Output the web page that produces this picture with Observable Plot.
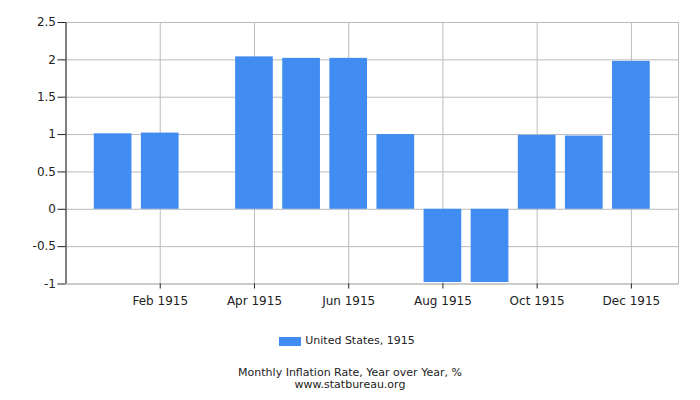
<!DOCTYPE html>
<html>
<head>
<meta charset="utf-8">
<script src="https://cdn.jsdelivr.net/npm/d3@7"></script>
<script src="https://cdn.jsdelivr.net/npm/@observablehq/plot@0.6"></script>
<style>
  body { margin: 0; background: #fff; font-family: "DejaVu Sans", sans-serif; }
  #chart { width: 700px; }
  .legend { height: 14px; padding-top: 14px; display: flex; justify-content: center; align-items: center; font-size: 11px; color: #222; line-height: 14px; }
  .legend .sw { width: 22px; height: 9px; background: #418cf0; margin-right: 4px; margin-left: -6px; }
  .caption { margin-top: 19px; text-align: center; font-size: 11px; line-height: 11.5px; color: #222; }
</style>
</head>
<body>
<div id="chart"></div>
<script>
const months = ["Jan 1915","Feb 1915","Mar 1915","Apr 1915","May 1915","Jun 1915","Jul 1915","Aug 1915","Sep 1915","Oct 1915","Nov 1915","Dec 1915"];
const values = [1.01, 1.02, 0, 2.04, 2.02, 2.02, 1.00, -0.98, -0.98, 0.99, 0.98, 1.98];
const tickMonths = ["Feb 1915","Apr 1915","Jun 1915","Aug 1915","Oct 1915","Dec 1915"];
const yTicks = [-1, -0.5, 0, 0.5, 1, 1.5, 2, 2.5];
const seriesName = "United States, 1915";
const title = "Monthly Inflation Rate, Year over Year, %";
const source = "www.statbureau.org";

const data = months.map((m, i) => ({month: m, pos: i + 1, value: values[i]}));
const xTicks = tickMonths.map(m => months.indexOf(m) + 1);
const barHalf = 0.4;

const chart = Plot.plot({
  width: 700,
  height: 320,
  marginLeft: 65.5,
  marginRight: 22,
  marginTop: 22,
  marginBottom: 36.5,
  style: { fontFamily: "DejaVu Sans, sans-serif", fontSize: "12px", color: "#222", background: "#fff" },
  x: { type: "linear", domain: [0, months.length + 1] },
  y: { domain: [-1, 2.5] },
  marks: [
    Plot.gridX(xTicks, { stroke: "#bbb", strokeOpacity: 1 }),
    Plot.gridY(yTicks, { stroke: "#bbb", strokeOpacity: 1 }),
    Plot.frame({ stroke: "#bbb" }),
    Plot.rectY(data, { x1: d => d.pos - barHalf, x2: d => d.pos + barHalf, y1: 0, y2: "value", fill: "#418cf0" }),
    Plot.axisY({ ticks: yTicks, tickFormat: d => String(d), tickSize: 8, tickPadding: 2, stroke: "#222", fill: "#222", fontSize: 12, label: null }),
    Plot.axisX({ ticks: xTicks, tickFormat: d => months[d - 1], tickSize: 5, tickPadding: 7, stroke: "#222", fill: "#222", fontSize: 12, label: null }),
    Plot.tickX([0], { x: d => d, y1: -1, y2: -1, stroke: "#222" }),
  ]
});
document.getElementById("chart").appendChild(chart);

const leg = document.createElement("div");
leg.className = "legend";
leg.innerHTML = `<span class="sw"></span><span></span>`;
leg.lastChild.textContent = seriesName;
document.body.appendChild(leg);

const cap = document.createElement("div");
cap.className = "caption";
cap.innerHTML = `<div></div><div></div>`;
cap.children[0].textContent = title;
cap.children[1].textContent = source;
document.body.appendChild(cap);
</script>
</body>
</html>
